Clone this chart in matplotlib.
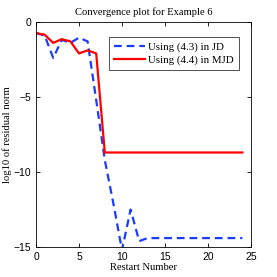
import numpy as np
import matplotlib
matplotlib.use('Agg')
import matplotlib.pyplot as plt

restarts = np.arange(0, 25)
jd = [-0.75, -0.9, -2.4, -1.2, -1.4, -1.05, -1.3, -5.2, -9.2, -12.1, -15.2,
      -12.5, -14.6, -14.4, -14.4, -14.4, -14.4, -14.4, -14.4, -14.4, -14.4,
      -14.4, -14.4, -14.4, -14.4]
mjd = [-0.75, -0.85, -1.4, -1.15, -1.3, -2.1, -1.9, -2.1, -8.7, -8.7, -8.7,
       -8.7, -8.7, -8.7, -8.7, -8.7, -8.7, -8.7, -8.7, -8.7, -8.7, -8.7,
       -8.7, -8.7, -8.7]

serif = 'Liberation Serif'
sans = 'Liberation Sans'

fig = plt.figure(figsize=(2.77, 2.77), dpi=100)
ax = fig.add_axes([0.13, 0.108, 0.776, 0.813])

ax.plot(restarts, jd, '--', color='#1a3cff', lw=1.6, dashes=(3.5, 2.2), label='Using (4.3) in JD')
ax.plot(restarts, mjd, '-', color='#ff0000', lw=1.6, label='Using (4.4) in MJD')

ax.set_xlim(0, 25)
ax.set_ylim(-15, 0)
ax.set_xticks([0, 5, 10, 15, 20, 25])
ax.set_yticks([-15, -10, -5, 0])
ax.tick_params(direction='in', top=True, right=True, length=3, width=0.6, labelsize=7.5)
for lab in ax.get_xticklabels() + ax.get_yticklabels():
    lab.set_fontfamily(sans)
for s in ax.spines.values():
    s.set_linewidth(0.6)

ax.set_title('Convergence plot for Example 6', fontsize=7.6, family=serif, pad=5)
ax.set_xlabel('Restart Number', fontsize=7.6, family=serif, labelpad=1)
ax.set_ylabel('log10 of residual norm', fontsize=7.6, family=serif, labelpad=1)

leg = ax.legend(loc='upper right', bbox_to_anchor=(0.944, 0.933), borderaxespad=0,
                prop={'family': serif, 'size': 7.8},
                fancybox=False, edgecolor='black', handlelength=2.9, borderpad=0.45,
                labelspacing=0.3, handletextpad=0.3)
leg.get_frame().set_linewidth(0.6)

fig.savefig('out.png', dpi=100)
